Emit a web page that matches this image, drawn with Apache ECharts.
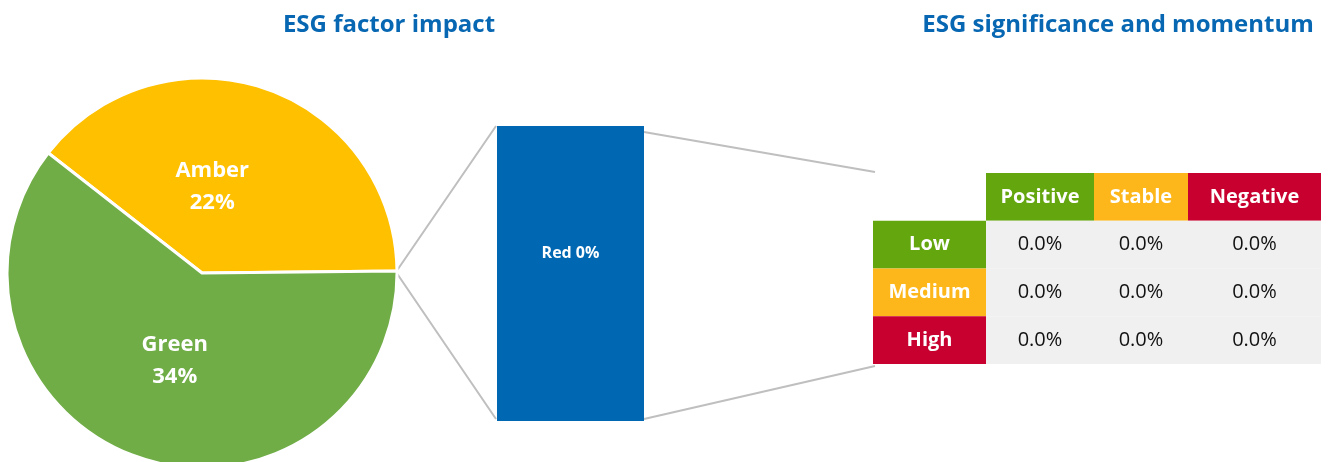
<!DOCTYPE html>
<html>
<head>
<meta charset="utf-8">
<script src="https://cdn.jsdelivr.net/npm/echarts@6/dist/echarts.min.js"></script>
<style>
  html, body { margin: 0; padding: 0; background: #fff; }
  #chart { width: 1329px; height: 462px; }
</style>
</head>
<body>
<div id="chart"></div>
<script>
// pie (primary) slices
const pieNames = ['Amber', 'Green'];
const pieValues = [22, 34];
// secondary column
const barNames = ['Red'];
const barValues = [0];
// significance / momentum table
const momentumCols = ['Positive', 'Stable', 'Negative'];
const significanceRows = ['Low', 'Medium', 'High'];
const tableValues = [
    [0.0, 0.0, 0.0],
    [0.0, 0.0, 0.0],
    [0.0, 0.0, 0.0]
];

const FONT = 'Open Sans';
const BLUE = '#0767b2';
const headColors = ['#63a60e', '#fdb71a', '#c8002f'];
const colEdges = [0, 113, 221, 315, 448]; // table column widths (px)
const pieLabelShift = [[-22, 9], [5, -7]];

let chart = echarts.init(document.getElementById('chart'));

// table cells: header row, row headers and value cells
let cells = [];
momentumCols.forEach(function (c, i) {
    cells.push({value: [i + 1, 0], name: c, fill: headColors[i], head: true});
});
significanceRows.forEach(function (r, j) {
    cells.push({value: [0, j + 1], name: r, fill: headColors[j], head: true});
    tableValues[j].forEach(function (v, i) {
        cells.push({value: [i + 1, j + 1], name: v.toFixed(1) + '%', fill: '#f0f0f0', head: false});
    });
});

let barTotal = barValues.reduce(function (a, b) { return a + b; }, 0);
let barShare = barValues.map(function (v) {
    return barTotal > 0 ? v / barTotal : 1 / barValues.length;
});

let option = {
    animation: false,
    title: [
        {
            text: 'ESG factor impact', left: 384, top: 8, textAlign: 'center',
            textStyle: {color: BLUE, fontFamily: FONT, fontWeight: 'bold', fontSize: 24}
        },
        {
            text: 'ESG significance and momentum', left: 1113, top: 8, textAlign: 'center',
            textStyle: {color: BLUE, fontFamily: FONT, fontWeight: 'bold', fontSize: 24}
        }
    ],
    grid: [
        {left: 497, top: 126, width: 147, height: 295},
        {left: 873, top: 173, width: 448, height: 191}
    ],
    xAxis: [
        {type: 'category', gridIndex: 0, data: barNames, show: false},
        {type: 'value', gridIndex: 1, min: 0, max: 448, show: false}
    ],
    yAxis: [
        {type: 'value', gridIndex: 0, min: 0, max: 1, show: false},
        {type: 'value', gridIndex: 1, min: 0, max: 4, inverse: true, show: false}
    ],
    graphic: [
        // connector lines
        {type: 'polyline', shape: {points: [[496, 126], [396, 272], [496, 419]]},
            style: {stroke: '#bfbfbf', lineWidth: 2, fill: null}},
        {type: 'line', shape: {x1: 644, y1: 132, x2: 875, y2: 172}, style: {stroke: '#bfbfbf', lineWidth: 2}},
        {type: 'line', shape: {x1: 644, y1: 419, x2: 875, y2: 366}, style: {stroke: '#bfbfbf', lineWidth: 2}}
    ],
    series: [
        {
            type: 'pie',
            center: [202, 273],
            radius: 195,
            startAngle: 142,
            clockwise: true,
            itemStyle: {borderColor: '#fff', borderWidth: 3},
            color: ['#ffc000', '#70ad47'],
            label: {
                position: 'inside',
                formatter: '{b}\n{c}%',
                color: '#fff',
                fontFamily: FONT,
                fontWeight: 'bold',
                fontSize: 22,
                lineHeight: 32
            },
            labelLine: {show: false},
            labelLayout: function (p) {
                return {dx: pieLabelShift[p.dataIndex][0], dy: pieLabelShift[p.dataIndex][1]};
            },
            data: pieNames.map(function (n, i) { return {name: n, value: pieValues[i]}; })
        },
        {
            type: 'bar',
            xAxisIndex: 0,
            yAxisIndex: 0,
            barWidth: '100%',
            itemStyle: {color: '#0068b3'},
            label: {
                show: true,
                position: 'inside',
                offset: [0, -20],
                formatter: function (p) { return p.name + ' ' + barValues[p.dataIndex] + '%'; },
                color: '#fff',
                fontFamily: FONT,
                fontWeight: 'bold',
                fontSize: 16
            },
            data: barShare
        },
        {
            type: 'custom',
            xAxisIndex: 1,
            yAxisIndex: 1,
            data: cells,
            renderItem: function (params, api) {
                let d = cells[params.dataIndex];
                let ci = api.value(0), ri = api.value(1);
                let p0 = api.coord([colEdges[ci], ri]);
                let p1 = api.coord([colEdges[ci + 1], ri + 1]);
                return {
                    type: 'rect',
                    shape: {x: p0[0], y: p0[1], width: p1[0] - p0[0], height: p1[1] - p0[1]},
                    style: {fill: d.fill},
                    textContent: {
                        style: {
                            text: d.name,
                            fill: d.head ? '#fff' : '#111',
                            fontFamily: FONT,
                            fontWeight: d.head ? 'bold' : 'normal',
                            fontSize: 20
                        }
                    },
                    textConfig: {position: 'inside'}
                };
            }
        }
    ]
};

chart.setOption(option);
</script>
</body>
</html>
